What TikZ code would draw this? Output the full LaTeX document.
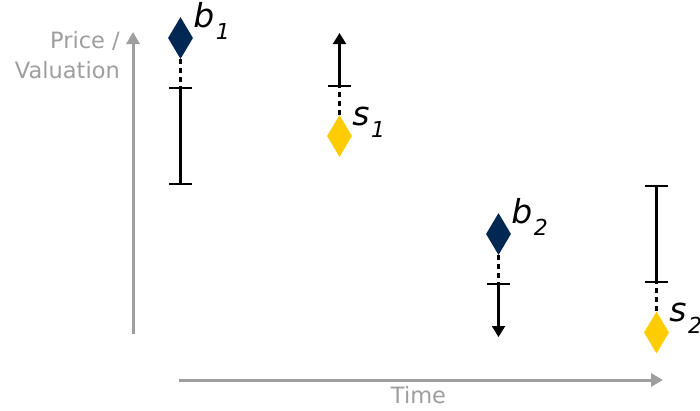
\documentclass[tikz,border=0pt]{standalone}
\usepackage{fontspec}
\setmainfont{DejaVu Sans}
\usepackage{tikz}
\usetikzlibrary{arrows.meta, positioning, shapes.geometric}
\definecolor{buyfill}{RGB}{0,40,82}
\definecolor{sellfill}{RGB}{255,204,0}
\definecolor{axisgray}{RGB}{158,158,158}
\tikzset{
  buyer/.style={diamond, fill=buyfill, minimum width=25pt, minimum height=42pt, inner sep=0pt},
  seller/.style={diamond, fill=sellfill, minimum width=25pt, minimum height=42pt, inner sep=0pt},
  lbl/.style={anchor=base west, inner sep=0pt, font=\fontsize{33}{33}\selectfont\itshape},
  axlbl/.style={inner sep=0pt, text=axisgray, font=\fontsize{22.5}{30}\selectfont},
  axis/.style={draw=axisgray, line width=3pt, -{Triangle[length=12pt, width=13pt]}},
  rng/.style={line width=2.2pt, {Bar[width=23pt]}-{Bar[width=23pt]}},
  open/.style={line width=2.2pt, {Bar[width=23pt]}-{Triangle[length=11pt, width=13pt]}},
  lnk/.style={line width=2.2pt, dash pattern=on 5pt off 4pt}
}
\newcommand{\bidlbl}[2]{#1\kern1.5pt\raisebox{-12pt}{\fontsize{22}{22}\selectfont #2}}

\begin{document}
\begin{tikzpicture}[x=1pt, y=-1pt]
\useasboundingbox (0,0) rectangle (700,410);
% axes
\coordinate (yo) at (133,334); \coordinate (ye) at (133,32);
\coordinate (xo) at (179,380); \coordinate (xe) at (663,380);
\draw[axis] (yo) -- (ye);
\draw[axis] (xo) -- (xe);
\node[axlbl, align=right, anchor=north east] (ylab) at (120,31) {Price /\\Valuation};
\node[axlbl, anchor=base] (xlab) at (418.5,403) {Time};
% round 1
\node[buyer] (d1) at (180.5,38) {};
\node[lbl] (d1l) at ([yshift=11pt]d1.east) {\bidlbl{b}{1}};
\coordinate (b1hi) at (180.5,87); \coordinate (b1lo) at (180.5,185);
\draw[lnk] (d1.south) -- (b1hi);
\draw[rng] (b1hi) -- (b1lo);
\node[seller] (s1) at (339.5,136) {};
\node[lbl] (s1l) at ([yshift=11pt]s1.east) {\bidlbl{s}{1}};
\coordinate (s1lo) at (339.5,87); \coordinate (s1hi) at (339.5,33);
\draw[lnk] (s1.north) -- (s1lo);
\draw[open] (s1lo) -- (s1hi);
% round 2
\node[buyer] (d2) at (498.5,234) {};
\node[lbl] (d2l) at ([yshift=11pt]d2.east) {\bidlbl{b}{2}};
\coordinate (b2hi) at (498.5,283); \coordinate (b2lo) at (498.5,337);
\draw[lnk] (d2.south) -- (b2hi);
\draw[open] (b2hi) -- (b2lo);
\node[seller] (s2) at (656.5,332.5) {};
\node[lbl] (s2l) at ([yshift=11pt]s2.east) {\bidlbl{s}{2}};
\coordinate (s2hi) at (656.5,185); \coordinate (s2lo) at (656.5,283);
\draw[lnk] (s2.north) -- (s2lo);
\draw[rng] (s2hi) -- (s2lo);
\end{tikzpicture}
\end{document}
